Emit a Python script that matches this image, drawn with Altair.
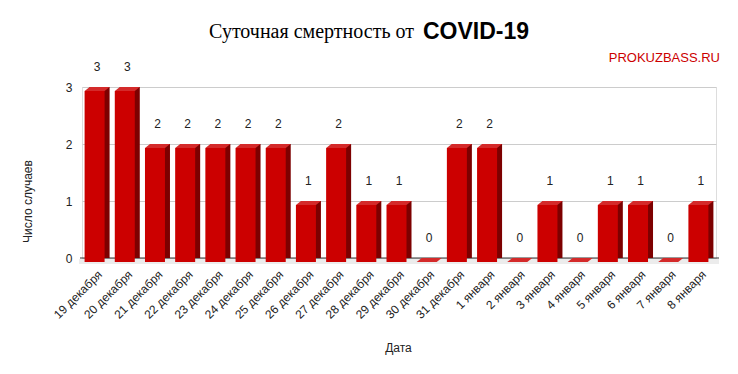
import altair as alt
import pandas as pd

dates = ["19 декабря", "20 декабря", "21 декабря", "22 декабря", "23 декабря",
         "24 декабря", "25 декабря", "26 декабря", "27 декабря", "28 декабря",
         "29 декабря", "30 декабря", "31 декабря", "1 января", "2 января",
         "3 января", "4 января", "5 января", "6 января", "7 января", "8 января"]
deaths = [3, 3, 2, 2, 2, 2, 2, 1, 2, 1, 1, 0, 2, 2, 0, 1, 0, 1, 1, 0, 1]

title_main = "Суточная смертность от"
title_bold = "COVID-19"
source_text = "PROKUZBASS.RU"
y_ticks = [0, 1, 2, 3]

df = pd.DataFrame({"Дата": dates, "Число случаев": deaths})

W, H = 634, 171
FONT = "Liberation Sans"

xenc = alt.X("Дата:N", sort=dates,
             scale=alt.Scale(paddingInner=0, paddingOuter=0),
             axis=alt.Axis(title="Дата", labelAngle=-45, labelAlign="right",
                           labelBaseline="middle", labelPadding=14, labelOffset=3,
                           ticks=False, domain=False, labelFontSize=12,
                           labelColor="#222222", labelFont=FONT,
                           titleFont=FONT, titleFontSize=12, titleFontWeight="normal",
                           titleColor="#222222", titleX=316, titleY=89,
                           titleBaseline="middle", titleAlign="center"))
yenc = alt.Y("Число случаев:Q",
             scale=alt.Scale(domain=[0, 3], nice=False),
             axis=alt.Axis(title="Число случаев", values=y_ticks, format="d",
                           grid=True, gridColor="#cccccc", domain=False, ticks=False,
                           labelPadding=10, labelFontSize=12, labelColor="#222222",
                           labelFont=FONT, titleFont=FONT, titleFontSize=12,
                           titleFontWeight="normal", titleColor="#222222",
                           titleAngle=-90, titleX=-55, titleY=114,
                           titleAlign="center", titleBaseline="middle"))

base = alt.Chart(df)

floor = alt.Chart(pd.DataFrame({"v": [0]})).mark_rule(
    color="#ececec", strokeWidth=5, yOffset=3.5).encode(
    x=alt.value(-3), x2=alt.value(W + 3), y=alt.Y("v:Q"))
zero_line = alt.Chart(pd.DataFrame({"v": [0]})).mark_rule(
    color="#333333", strokeWidth=1).encode(
    x=alt.value(-2), x2=alt.value(W + 3), y=alt.Y("v:Q"))

side = base.mark_bar(color="#7d0000", size=20, xOffset=2.5, x2Offset=2.5).encode(
    x=xenc, y=yenc, y2=alt.datum(0))
front = base.mark_bar(color="#cc0000", size=20, xOffset=-2.5, x2Offset=-2.5,
                      yOffset=4, y2Offset=4).encode(
    x=xenc, y=yenc, y2=alt.datum(0))
top_path = "M -1.25 0.4 L 0.75 0.4 L 1.25 0 L -0.75 0 Z"
top = base.mark_point(shape=top_path, size=400, filled=True, opacity=1,
                      color="#d42a2a", strokeWidth=0).encode(x=xenc, y=yenc)
labels = base.mark_text(dy=-20, fontSize=12, font=FONT, color="#222222").encode(
    x=xenc, y=yenc, text=alt.Text("Число случаев:Q"))

t1 = alt.Chart(pd.DataFrame({"t": [title_main]})).mark_text(
    font="Liberation Serif", fontSize=20, align="right", baseline="middle",
    color="#000000").encode(x=alt.value(332), y=alt.value(-55), text="t:N")
t2 = alt.Chart(pd.DataFrame({"t": [title_bold]})).mark_text(
    font=FONT, fontSize=23, fontWeight="bold", align="left", baseline="middle",
    color="#000000").encode(x=alt.value(341), y=alt.value(-55), text="t:N")
src = alt.Chart(pd.DataFrame({"t": [source_text]})).mark_text(
    font=FONT, fontSize=13, align="right", baseline="middle",
    color="#cc0000").encode(x=alt.value(638), y=alt.value(-29), text="t:N")

chart = alt.layer(floor, zero_line, side, front, top, labels, t1, t2, src).properties(
    width=W, height=H,
    autosize=alt.AutoSizeParams(type="none"),
    padding={"left": 74, "top": 79, "right": 14, "bottom": 108},
).configure_view(stroke=None).configure(background="#ffffff")

chart.save("out.html", embed_options={"renderer": "svg", "actions": False})
